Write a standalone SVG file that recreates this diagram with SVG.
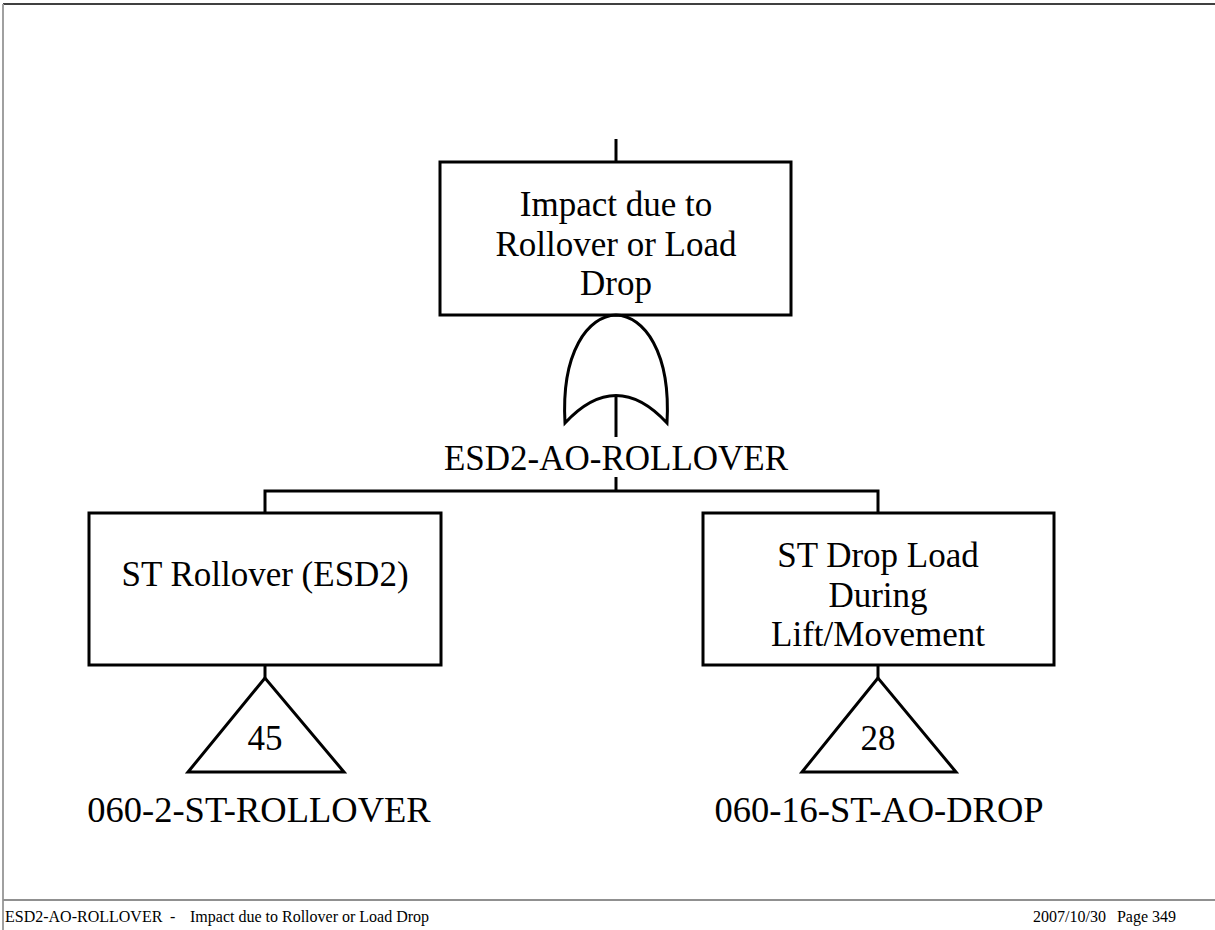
<svg xmlns="http://www.w3.org/2000/svg" width="1215" height="930" viewBox="0 0 1215 930">
<style>
.box{fill:#fff;stroke:#000;stroke-width:3}
.ln{fill:none;stroke:#000;stroke-width:3}
.t{font-family:"Liberation Serif","Times New Roman",serif;font-size:35px;fill:#000;text-anchor:middle}
.lbl{font-size:36.5px}
.f{font-family:"Liberation Serif","Times New Roman",serif;font-size:16px;fill:#000}
</style>
<rect x="0" y="0" width="1215" height="930" fill="#fff"/>
<g id="frame">
<line x1="3" y1="4" x2="1215" y2="4" stroke="#404040" stroke-width="2"/>
<line x1="3" y1="4" x2="3" y2="930" stroke="#a0a0a0" stroke-width="2"/>
<line x1="3" y1="900" x2="1215" y2="900" stroke="#909090" stroke-width="2"/>
<text class="f" x="5" y="922">ESD2-AO-ROLLOVER</text>
<text class="f" x="170" y="922">-</text>
<text class="f" x="190" y="922">Impact due to Rollover or Load Drop</text>
<text class="f" x="1106" y="922" text-anchor="end">2007/10/30</text>
<text class="f" x="1176" y="922" text-anchor="end">Page 349</text>
</g>
<g id="connectors">
<line class="ln" x1="616" y1="139" x2="616" y2="162"/>
<line class="ln" x1="616" y1="477" x2="616" y2="491"/>
<polyline class="ln" points="265,513 265,491 878,491 878,513"/>
<line class="ln" x1="265" y1="665" x2="265" y2="678"/>
<line class="ln" x1="878" y1="665" x2="878" y2="678"/>
</g>
<g id="top-event">
<rect class="box" x="440" y="162" width="351" height="153"/>
<text class="t" x="616" y="216">Impact due to</text>
<text class="t" x="616" y="256">Rollover or Load</text>
<text class="t" x="616" y="295">Drop</text>
</g>
<g id="or-gate">
<path class="ln" d="M565,423 C561,352 588,316 616,315 C644,316 671,352 667,423 Q616,368 565,423 Z" fill="#fff"/>
<line class="ln" x1="616" y1="395" x2="616" y2="437"/>
<text class="t" x="616" y="470">ESD2-AO-ROLLOVER</text>
</g>
<g id="st-rollover">
<rect class="box" x="89" y="513" width="352" height="152"/>
<text class="t" x="265" y="586">ST Rollover (ESD2)</text>
</g>
<g id="st-drop-load">
<rect class="box" x="703" y="513" width="351" height="152"/>
<text class="t" x="878" y="567">ST Drop Load</text>
<text class="t" x="878" y="607">During</text>
<text class="t" x="878" y="646">Lift/Movement</text>
</g>
<g id="transfer-45">
<polygon class="box" points="265,678 188,772 344,772"/>
<text class="t" x="265" y="750">45</text>
<text class="t lbl" x="259" y="822">060-2-ST-ROLLOVER</text>
</g>
<g id="transfer-28">
<polygon class="box" points="878,678 802,772 956,772"/>
<text class="t" x="878" y="750">28</text>
<text class="t lbl" x="879" y="822">060-16-ST-AO-DROP</text>
</g>
</svg>
